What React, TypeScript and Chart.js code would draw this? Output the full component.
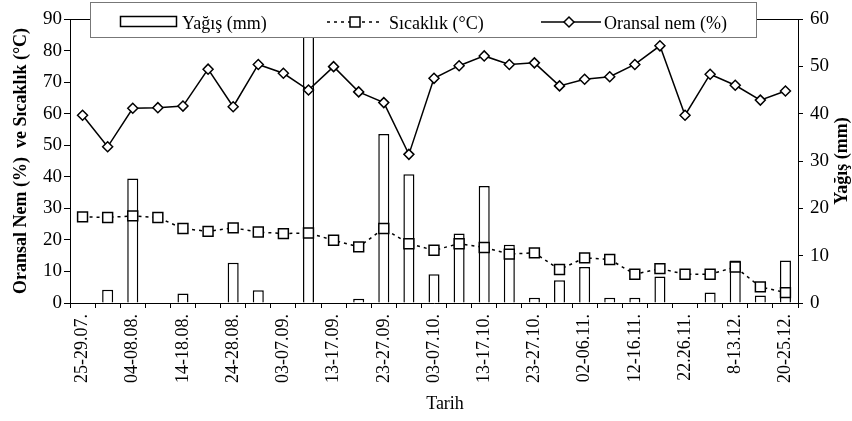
import React, { useEffect, useRef } from 'react';
import { Chart, registerables } from 'chart.js';

Chart.register(...registerables);

const FONT = "'Liberation Serif', 'Times New Roman', serif";

// 29 five-day periods (only every second label is printed on the axis)
const categories = [
  '25-29.07.', '30.07-03.08.', '04-08.08.', '09-13.08.', '14-18.08.', '19-23.08.',
  '24-28.08.', '29.08-02.09.', '03-07.09.', '08-12.09.', '13-17.09.', '18-22.09.',
  '23-27.09.', '28.09-02.10.', '03-07.10.', '08-12.10.', '13-17.10.', '18-22.10.',
  '23-27.10.', '28.10-01.11.', '02-06.11.', '07-11.11.', '12-16.11.', '17-21.11.',
  '22.26.11.', '27.11-01.12.', '8-13.12.', '14-19.12.', '20-25.12.',
];

// Yağış (mm) – right axis
const rainfall = [
  0, 2.8, 26.3, 0, 2.0, 0, 8.5, 2.7, 0, 65, 0, 0.9, 35.7, 27.2, 6.1,
  14.7, 24.7, 12.3, 1.1, 4.8, 7.6, 1.1, 1.1, 5.6, 0, 2.2, 9.0, 1.6, 9.0,
];

// Sıcaklık (°C) – left axis
const temperature = [
  27.3, 27.1, 27.6, 27.1, 23.6, 22.7, 23.8, 22.5, 22.0, 22.2, 19.9, 17.8, 23.6, 18.8, 16.7,
  18.8, 17.6, 15.5, 15.9, 10.6, 14.3, 13.8, 9.1, 10.9, 9.1, 9.1, 11.4, 5.1, 3.3,
];

// Oransal nem (%) – left axis
const humidity = [
  59.5, 49.5, 61.7, 61.9, 62.4, 74.1, 62.2, 75.6, 72.8, 67.5, 74.9, 66.9, 63.5, 47.1, 71.2,
  75.2, 78.3, 75.6, 76.1, 68.8, 70.9, 71.7, 75.6, 81.5, 59.5, 72.5, 69.0, 64.3, 67.2,
];

const leftTicksMax = 90;
const rightTicksMax = 60;

const legendLabels = ['Yağış (mm)', 'Sıcaklık (°C)', 'Oransal nem (%)'];
const leftTitle = 'Oransal Nem (%)  ve Sıcaklık (°C)';
const rightTitle = 'Yağış (mm)';
const xTitle = 'Tarih';

const overlayPlugin = {
  id: 'overlayPlugin',
  afterDraw(chart: any) {
    const { ctx, chartArea } = chart;
    ctx.save();
    // hide anything drawn above the plot area
    ctx.fillStyle = '#fff';
    ctx.fillRect(chartArea.left + 1, 0, chartArea.right - chartArea.left - 2, chartArea.top);

    // plot-area top border
    ctx.strokeStyle = '#000';
    ctx.lineWidth = 1;
    ctx.setLineDash([]);
    ctx.beginPath();
    ctx.moveTo(chartArea.left, chartArea.top + 0.5);
    ctx.lineTo(chartArea.right, chartArea.top + 0.5);
    ctx.stroke();

    // legend box
    ctx.fillStyle = '#fff';
    ctx.fillRect(90, 2, 667, 36);
    ctx.strokeStyle = '#777';
    ctx.lineWidth = 1;
    ctx.strokeRect(90.5, 2.5, 666, 35);

    ctx.font = `18px ${FONT}`;
    ctx.fillStyle = '#000';
    ctx.textBaseline = 'alphabetic';
    ctx.textAlign = 'left';

    // bar swatch
    ctx.strokeStyle = '#000';
    ctx.lineWidth = 1.5;
    ctx.strokeRect(120.5, 16.5, 56, 10);
    ctx.fillText(legendLabels[0], 182, 28.5);

    // temperature swatch
    ctx.setLineDash([3, 4]);
    ctx.beginPath();
    ctx.moveTo(327, 22);
    ctx.lineTo(383, 22);
    ctx.stroke();
    ctx.setLineDash([]);
    ctx.fillStyle = '#fff';
    ctx.fillRect(350, 17, 10, 10);
    ctx.strokeRect(350, 17, 10, 10);
    ctx.fillStyle = '#000';
    ctx.fillText(legendLabels[1], 389, 28.5);

    // humidity swatch
    ctx.beginPath();
    ctx.moveTo(541, 22);
    ctx.lineTo(601, 22);
    ctx.stroke();
    ctx.beginPath();
    ctx.moveTo(564, 22);
    ctx.lineTo(569, 17);
    ctx.lineTo(574, 22);
    ctx.lineTo(569, 27);
    ctx.closePath();
    ctx.fillStyle = '#fff';
    ctx.fill();
    ctx.stroke();
    ctx.fillStyle = '#000';
    ctx.fillText(legendLabels[2], 604, 28.5);

    // x axis title
    ctx.font = `18px ${FONT}`;
    ctx.textAlign = 'center';
    ctx.textBaseline = 'middle';
    ctx.fillText(xTitle, 445, 404);

    // right axis title (reads bottom to top)
    ctx.font = `bold 18px ${FONT}`;
    ctx.translate(842, (chartArea.top + chartArea.bottom) / 2);
    ctx.rotate(-Math.PI / 2);
    ctx.fillText(rightTitle, 0, 0);
    ctx.restore();
  },
};

export default function App() {
  const canvasRef = useRef<HTMLCanvasElement | null>(null);

  useEffect(() => {
    document.body.style.margin = '0';
    const canvas = canvasRef.current;
    if (!canvas) return;
    Chart.defaults.font.family = FONT;
    Chart.defaults.color = '#000';

    const chart = new Chart(canvas, {
      type: 'bar',
      data: {
        labels: categories,
        datasets: [
          {
            type: 'line',
            label: legendLabels[2],
            data: humidity,
            yAxisID: 'y',
            borderColor: '#000',
            borderWidth: 1.5,
            backgroundColor: '#fff',
            pointStyle: 'rectRot',
            pointRadius: 5,
            pointBorderWidth: 1.5,
            pointBackgroundColor: '#fff',
            pointBorderColor: '#000',
            tension: 0,
            order: 1,
          },
          {
            type: 'line',
            label: legendLabels[1],
            data: temperature,
            yAxisID: 'y',
            borderColor: '#000',
            borderWidth: 1.5,
            borderDash: [3, 4],
            backgroundColor: '#fff',
            pointStyle: 'rect',
            pointRadius: 7,
            pointBorderWidth: 1.5,
            pointBackgroundColor: '#fff',
            pointBorderColor: '#000',
            tension: 0,
            order: 2,
          },
          {
            type: 'bar',
            label: legendLabels[0],
            data: rainfall,
            yAxisID: 'y1',
            backgroundColor: '#fff',
            borderColor: '#000',
            borderWidth: 1.5,
            barPercentage: 0.44,
            categoryPercentage: 1,
            clip: 0,
            order: 3,
          },
        ],
      },
      options: {
        responsive: false,
        animation: false,
        layout: { padding: { top: 19, left: 0, right: 0, bottom: 0 } },
        plugins: {
          legend: { display: false },
          tooltip: { enabled: false },
        },
        scales: {
          x: {
            offset: true,
            grid: {
              display: true,
              drawOnChartArea: false,
              offset: true,
              tickLength: 5,
              tickColor: '#000',
              color: '#000',
            },
            border: { display: true, color: '#000', width: 1 },
            ticks: {
              autoSkip: false,
              maxRotation: 90,
              minRotation: 90,
              padding: 6,
              color: '#000',
              font: { family: FONT, size: 18 },
              callback: (_v: any, i: number) => (i % 2 === 0 ? categories[i] : ''),
            },
            title: { display: false },
            afterFit: (s: any) => {
              s.height = 118;
            },
          },
          y: {
            position: 'left',
            min: 0,
            max: leftTicksMax,
            grid: {
              display: true,
              drawOnChartArea: false,
              tickLength: 6,
              tickColor: '#000',
              color: '#000',
            },
            border: { display: true, color: '#000', width: 1 },
            ticks: {
              stepSize: 10,
              padding: 2,
              color: '#000',
              font: { family: FONT, size: 19 },
            },
            title: {
              display: true,
              text: leftTitle,
              color: '#000',
              font: { family: FONT, size: 18, weight: 'bold' },
              padding: { top: 11, bottom: 0 },
            },
            afterFit: (s: any) => {
              s.width = 70;
            },
          },
          y1: {
            position: 'right',
            min: 0,
            max: rightTicksMax,
            grid: {
              display: true,
              drawOnChartArea: false,
              tickLength: 5,
              tickColor: '#000',
              color: '#000',
            },
            border: { display: true, color: '#000', width: 1 },
            ticks: {
              stepSize: 10,
              padding: 7,
              color: '#000',
              font: { family: FONT, size: 19 },
            },
            afterFit: (s: any) => {
              s.width = 54;
            },
          },
        },
      },
      plugins: [overlayPlugin],
    } as any);

    return () => chart.destroy();
  }, []);

  return (
    <div style={{ width: 852, height: 421, position: 'relative', background: '#fff' }}>
      <canvas ref={canvasRef} width={852} height={421} />
    </div>
  );
}
